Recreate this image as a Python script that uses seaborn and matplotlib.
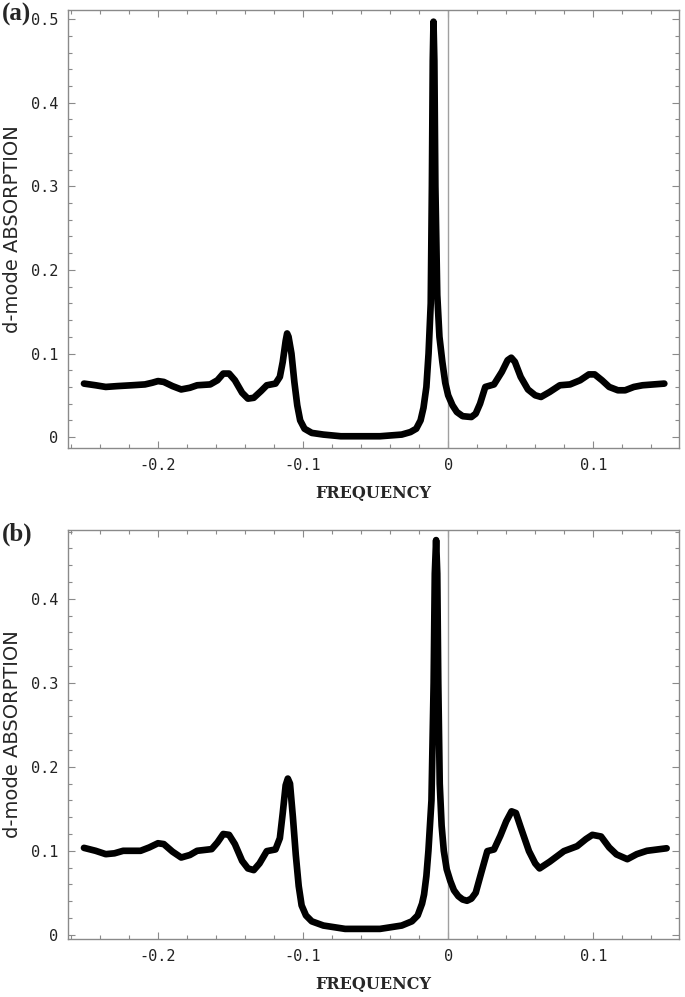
import matplotlib
matplotlib.use("Agg")
import matplotlib.pyplot as plt
from matplotlib.ticker import MultipleLocator
import pandas as pd
import seaborn as sns

# panel (a): frequency / absorption
freq_a = [-0.251, -0.243, -0.236, -0.228, -0.218, -0.209, -0.204, -0.200, -0.196,
          -0.190, -0.184, -0.178, -0.173, -0.164, -0.159, -0.155, -0.151, -0.147,
          -0.142, -0.138, -0.134, -0.129, -0.125, -0.119, -0.116, -0.114, -0.112,
          -0.111, -0.110, -0.108, -0.106, -0.104, -0.102, -0.099, -0.094, -0.086,
          -0.074, -0.047, -0.032, -0.026, -0.022, -0.019, -0.017, -0.015, -0.0135,
          -0.012, -0.0112, -0.0106, -0.0101, -0.0095, -0.0088, -0.0075, -0.006,
          -0.004, -0.002, 0.000, 0.003, 0.006, 0.010, 0.016, 0.019, 0.022, 0.0256,
          0.0316, 0.037, 0.041, 0.0435, 0.046, 0.050, 0.055, 0.060, 0.064, 0.070,
          0.077, 0.084, 0.091, 0.097, 0.101, 0.106, 0.111, 0.117, 0.122, 0.128,
          0.134, 0.149]
absn_a = [0.064, 0.062, 0.060, 0.061, 0.062, 0.063, 0.065, 0.067, 0.066,
          0.061, 0.057, 0.059, 0.062, 0.063, 0.068, 0.076, 0.076, 0.068,
          0.053, 0.046, 0.047, 0.055, 0.062, 0.064, 0.072, 0.090, 0.115,
          0.124, 0.120, 0.100, 0.066, 0.038, 0.020, 0.010, 0.005, 0.003,
          0.001, 0.001, 0.003, 0.006, 0.010, 0.020, 0.035, 0.060, 0.100,
          0.160, 0.300, 0.450, 0.497, 0.450, 0.300, 0.170, 0.120,
          0.090, 0.065, 0.050, 0.038, 0.030, 0.025, 0.024, 0.028, 0.040, 0.060,
          0.063, 0.078, 0.092, 0.095, 0.090, 0.072, 0.057, 0.050, 0.048, 0.054,
          0.062, 0.063, 0.068, 0.075, 0.075, 0.068, 0.060, 0.056, 0.056, 0.060,
          0.062, 0.064]

# panel (b)
freq_b = [-0.251, -0.243, -0.236, -0.230, -0.224, -0.212, -0.206, -0.200, -0.196,
          -0.190, -0.184, -0.178, -0.173, -0.163, -0.159, -0.155, -0.151, -0.147,
          -0.142, -0.138, -0.134, -0.130, -0.125, -0.119, -0.116, -0.114, -0.112,
          -0.1105, -0.109, -0.107, -0.105, -0.103, -0.101, -0.098, -0.094, -0.086,
          -0.071, -0.047, -0.032, -0.025, -0.021, -0.018, -0.0166, -0.015, -0.0136,
          -0.0115, -0.0100, -0.0092, -0.0083, -0.0075, -0.0068, -0.0058, -0.0045,
          -0.003, -0.001, 0.0015, 0.004, 0.007, 0.010, 0.013, 0.016, 0.019, 0.023,
          0.027, 0.0316, 0.036, 0.040, 0.0437, 0.0467, 0.050, 0.0557, 0.060, 0.063,
          0.070, 0.0798, 0.0889, 0.095, 0.0994, 0.1054, 0.111, 0.116, 0.1235,
          0.130, 0.137, 0.1506]
absn_b = [0.1035, 0.100, 0.096, 0.097, 0.100, 0.100, 0.104, 0.109, 0.108,
          0.099, 0.092, 0.095, 0.100, 0.102, 0.110, 0.120, 0.119, 0.108,
          0.088, 0.079, 0.077, 0.085, 0.0996, 0.1016, 0.115, 0.145, 0.178,
          0.186, 0.180, 0.140, 0.095, 0.058, 0.035, 0.023, 0.016, 0.011,
          0.007, 0.007, 0.011, 0.016, 0.023, 0.037, 0.048, 0.070, 0.100,
          0.160, 0.300, 0.430, 0.470, 0.430, 0.300, 0.180, 0.130,
          0.100, 0.078, 0.064, 0.053, 0.046, 0.042, 0.0405, 0.043, 0.050, 0.075,
          0.0996, 0.1016, 0.118, 0.135, 0.147, 0.145, 0.128, 0.0996, 0.085, 0.079,
          0.087, 0.0996, 0.1055, 0.114, 0.119, 0.117, 0.104, 0.0957, 0.090,
          0.096, 0.100, 0.103]

panel_labels = ["(a)", "(b)"]
y_tops = [0.511, 0.482]
y_bottoms = [-0.013, -0.005]

sns.set_style("ticks")
plt.rcParams["font.family"] = ["DejaVu Sans"]

fig = plt.figure(figsize=(6.85, 9.97), dpi=100)
ax_a = fig.add_axes([0.0993, 0.5507, 0.8917, 0.4393])
ax_b = fig.add_axes([0.0993, 0.0582, 0.8917, 0.4102])

frame_col = "#8a8a8a"
panels = [(ax_a, freq_a, absn_a), (ax_b, freq_b, absn_b)]
for i, (ax, fx, ay) in enumerate(panels):
    df = pd.DataFrame({"freq": fx, "abs": ay})
    ax.axvline(0, color="#a0a0a0", lw=1.0, zorder=1)
    sns.lineplot(data=df, x="freq", y="abs", ax=ax, color="black", lw=4.8,
                 solid_joinstyle="round", solid_capstyle="round", zorder=3)
    ax.set_xlim(-0.262, 0.159)
    ax.set_ylim(y_bottoms[i], y_tops[i])
    ax.xaxis.set_minor_locator(MultipleLocator(0.02))
    ax.yaxis.set_minor_locator(MultipleLocator(0.02))
    ax.set_xticks([-0.2, -0.1, 0, 0.1])
    ax.set_xticklabels(["-0.2", "-0.1", "0", "0.1"])
    yt = [0, 0.1, 0.2, 0.3, 0.4, 0.5] if i == 0 else [0, 0.1, 0.2, 0.3, 0.4]
    ax.set_yticks(yt)
    ax.set_yticklabels(["0"] + ["%.1f" % v for v in yt[1:]])
    for sp in ax.spines.values():
        sp.set_visible(True)
        sp.set_color(frame_col)
        sp.set_linewidth(1.0)
    ax.tick_params(which="both", direction="in", top=True, right=True,
                   color=frame_col, width=0.8)
    ax.tick_params(which="major", length=5, pad=7, labelsize=11, labelcolor="#222222")
    ax.tick_params(which="minor", length=3)
    for lab in ax.get_xticklabels() + ax.get_yticklabels():
        lab.set_family("DejaVu Sans Mono")
    ax.set_xlabel("FREQUENCY", family="DejaVu Serif", fontweight="bold",
                  fontsize=11.5, labelpad=9)
    ax.set_ylabel("d-mode ABSORPTION", fontsize=14)
    ax.yaxis.set_label_coords(-0.075, 0.5)
    ax.grid(False)
    fig.text(0.003, ax.get_position().y1 - 0.004, panel_labels[i],
             family="Liberation Serif", fontweight="bold", fontsize=18,
             va="center", ha="left")

fig.savefig("out.png", dpi=100)
